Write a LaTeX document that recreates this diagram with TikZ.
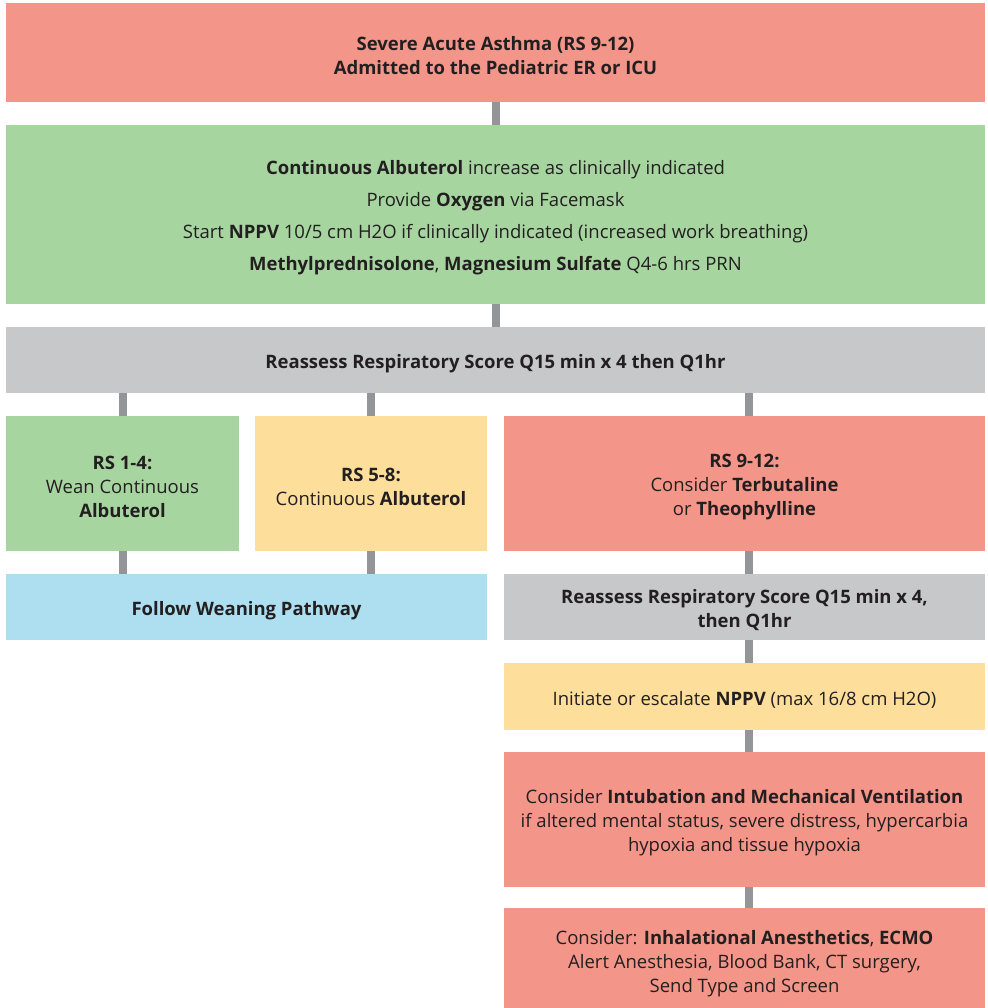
\documentclass[tikz,border=0pt]{standalone}
\usepackage{fontspec}
\setmainfont{Open Sans}
\usetikzlibrary{calc}
\definecolor{salmon}{RGB}{243,150,137}
\definecolor{sgreen}{RGB}{166,213,160}
\definecolor{sgray}{RGB}{199,200,202}
\definecolor{syellow}{RGB}{253,223,155}
\definecolor{sblue}{RGB}{173,223,241}
\definecolor{conngray}{RGB}{147,149,152}
\definecolor{txt}{RGB}{35,31,32}
\begin{document}
\begin{tikzpicture}[x=1pt,y=-1pt,
  box/.style={rectangle, inner sep=0pt, outer sep=0pt},
  lbl/.style={inner sep=0pt, align=center, text=txt, yshift=-3.5pt, font=\fontsize{18.5}{24}\selectfont},
  conn/.style={draw=conngray, line width=8pt}]
\useasboundingbox (0,0) rectangle (987,1008);
\node[box, fill=salmon, minimum width=979pt, minimum height=99pt,
  label={[lbl]center:{\textbf{Severe Acute Asthma (RS 9-12)}\\\textbf{Admitted to the Pediatric ER or ICU}}}] (title) at (495.5,52.5) {};
\node[box, fill=sgreen, minimum width=979pt, minimum height=179pt,
  label={[lbl, font=\fontsize{18.5}{32}\selectfont]center:{\textbf{Continuous Albuterol} increase as clinically indicated\\
   Provide \textbf{Oxygen} via Facemask\\
   Start \textbf{NPPV} 10/5 cm H2O if clinically indicated (increased work breathing)\\
   \textbf{Methylprednisolone}, \textbf{Magnesium Sulfate} Q4-6 hrs PRN}}] (init) at (495.5,214.5) {};
\node[box, fill=sgray, minimum width=979pt, minimum height=66pt,
  label={[lbl]center:{\textbf{Reassess Respiratory Score Q15 min x 4 then Q1hr}}}] (reassess) at (495.5,360) {};
\node[box, fill=sgreen, minimum width=233pt, minimum height=135pt,
  label={[lbl]center:{\textbf{RS 1-4:}\\Wean Continuous\\\textbf{Albuterol}}}] (rsA) at (122.5,483.5) {};
\node[box, fill=syellow, minimum width=232pt, minimum height=135pt,
  label={[lbl]center:{\textbf{RS 5-8:}\\Continuous \textbf{Albuterol}}}] (rsB) at (371,483.5) {};
\node[box, fill=salmon, minimum width=481pt, minimum height=135pt,
  label={[lbl]center:{\textbf{RS 9-12:}\\Consider \textbf{Terbutaline}\\or \textbf{Theophylline}}}] (rsC) at (744.5,483.5) {};
\node[box, fill=sblue, minimum width=481pt, minimum height=66pt,
  label={[lbl]center:{\textbf{Follow Weaning Pathway}}}] (wean) at (246.5,607) {};
\node[box, fill=sgray, minimum width=481pt, minimum height=66pt,
  label={[lbl]center:{\textbf{Reassess Respiratory Score Q15 min x 4,}\\\textbf{then Q1hr}}}] (reassessB) at (744.5,607) {};
\node[box, fill=syellow, minimum width=481pt, minimum height=67pt,
  label={[lbl]center:{Initiate or escalate \textbf{NPPV} (max 16/8 cm H2O)}}] (nppv) at (744.5,696.5) {};
\node[box, fill=salmon, minimum width=481pt, minimum height=135pt,
  label={[lbl]center:{Consider \textbf{Intubation and Mechanical Ventilation}\\if altered mental status, severe distress, hypercarbia\\hypoxia and tissue hypoxia}}] (intub) at (744.5,819.5) {};
\node[box, fill=salmon, minimum width=481pt, minimum height=100pt,
  label={[lbl, yshift=-2pt]center:{Consider: \textbf{Inhalational Anesthetics}, \textbf{ECMO}\\Alert Anesthesia, Blood Bank, CT surgery,\\Send Type and Screen}}] (ecmo) at (744.5,958) {};
\coordinate (xm) at (495.5,0);
\coordinate (xa) at (122.5,0);
\coordinate (xb) at (371,0);
\coordinate (xc) at (749,0);
\draw[conn] (title.south -| xm) -- (init.north -| xm);
\draw[conn] (init.south -| xm) -- (reassess.north -| xm);
\draw[conn] (reassess.south -| xa) -- (rsA.north -| xa);
\draw[conn] (reassess.south -| xb) -- (rsB.north -| xb);
\draw[conn] (reassess.south -| xc) -- (rsC.north -| xc);
\draw[conn] (rsA.south -| xa) -- (wean.north -| xa);
\draw[conn] (rsB.south -| xb) -- (wean.north -| xb);
\draw[conn] (rsC.south -| xc) -- (reassessB.north -| xc);
\draw[conn] (reassessB.south -| xc) -- (nppv.north -| xc);
\draw[conn] (nppv.south -| xc) -- (intub.north -| xc);
\draw[conn] (intub.south -| xc) -- (ecmo.north -| xc);
\end{tikzpicture}
\end{document}
